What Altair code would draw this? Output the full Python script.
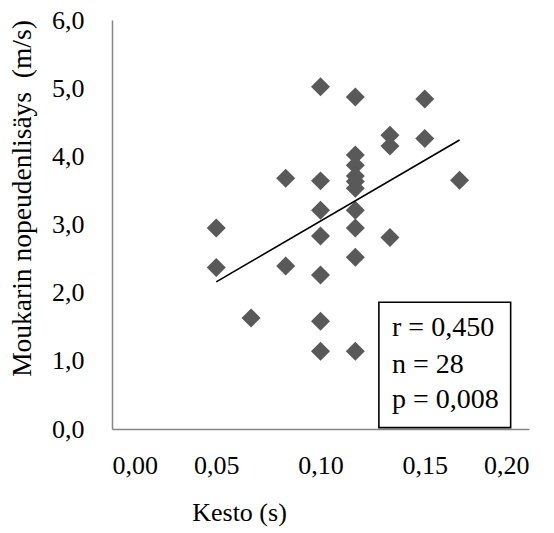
import altair as alt
import pandas as pd

# Data
kesto = [0.05, 0.05,
         0.0667,
         0.0833, 0.0833,
         0.10, 0.10, 0.10, 0.10, 0.10, 0.10, 0.10,
         0.1167, 0.1167, 0.1167, 0.1167, 0.1167, 0.1167, 0.1167, 0.1167, 0.1167, 0.1167,
         0.1333, 0.1333, 0.1333,
         0.15, 0.15,
         0.1667]
nopeus = [2.95, 2.37,
          1.63,
          3.68, 2.39,
          5.02, 3.64, 3.21, 2.83, 2.26, 1.58, 1.14,
          4.87, 4.02, 3.87, 3.71, 3.63, 3.53, 3.21, 2.95, 2.52, 1.14,
          4.31, 4.15, 2.81,
          4.84, 4.26,
          3.65]

stat_lines = ["r = 0,450", "n = 28", "p = 0,008"]
stat_y = [1.48, 0.94, 0.43]
stat_x = [0.1343, 0.1343, 0.1343]
box_x = [0.128]
box_x2 = [0.1912]
box_y = [0.02]
box_y2 = [1.86]

FONT = "Liberation Serif"
FS = 26

df = pd.DataFrame({"Kesto": kesto, "Nopeus": nopeus})
stats = pd.DataFrame({"label": stat_lines, "x": stat_x, "y": stat_y})
box = pd.DataFrame({"x": box_x, "x2": box_x2, "y": box_y, "y2": box_y2})

xscale = alt.Scale(domain=[0, 0.2], nice=False, zero=True)
yscale = alt.Scale(domain=[0, 6], nice=False)

xaxis = alt.Axis(
    values=[0, 0.05, 0.10, 0.15, 0.20],
    labelExpr="replace(format(datum.value, '.2f'), '.', ',')",
    title="Kesto (s)",
    titleX=127, titleY=83, titleBaseline="middle", titleAlign="center",
    labelBaseline="middle", labelPadding=36,
)
yaxis = alt.Axis(
    values=[0, 1, 2, 3, 4, 5, 6],
    labelExpr="replace(format(datum.value, '.1f'), '.', ',')",
    title="Moukarin nopeudenlisäys\u00a0\u00a0(m/s)",
    titleX=-90, titleY=178, titleAngle=-90, titleBaseline="middle", titleAlign="center",
    titleFontSize=27.5,
    labelPadding=28,
)

points = alt.Chart(df).mark_point(
    shape="diamond", filled=True, size=360, color="#595959", opacity=1
).encode(
    x=alt.X("Kesto:Q", scale=xscale, axis=xaxis),
    y=alt.Y("Nopeus:Q", scale=yscale, axis=yaxis),
)

trend = alt.Chart(df).transform_regression("Kesto", "Nopeus").mark_line(
    color="black", strokeWidth=1.6
).encode(
    x=alt.X("Kesto:Q", scale=xscale),
    y=alt.Y("Nopeus:Q", scale=yscale),
)

rect = alt.Chart(box).mark_rect(
    fill="white", stroke="black", strokeWidth=1.6
).encode(
    x=alt.X("x:Q", scale=xscale), x2="x2:Q",
    y=alt.Y("y:Q", scale=yscale), y2="y2:Q",
)

text = alt.Chart(stats).mark_text(
    align="left", baseline="middle", font=FONT, fontSize=28, color="black"
).encode(
    x=alt.X("x:Q", scale=xscale),
    y=alt.Y("y:Q", scale=yscale),
    text="label:N",
)

chart = alt.layer(points, trend, rect, text).properties(
    width=417, height=409,
    autosize=alt.AutoSizeParams(type="none"),
    padding={"left": 112, "top": 20, "right": 25, "bottom": 104},
).configure_view(stroke=None).configure_axis(
    grid=False, ticks=False, tickSize=0,
    domainColor="#868686", domainWidth=1.5,
    labelFont=FONT, labelFontSize=FS, labelColor="black",
    titleFont=FONT, titleFontSize=FS, titleColor="black", titleFontWeight="normal",
)

chart.save("out.html", embed_options={"renderer": "svg", "actions": False})
